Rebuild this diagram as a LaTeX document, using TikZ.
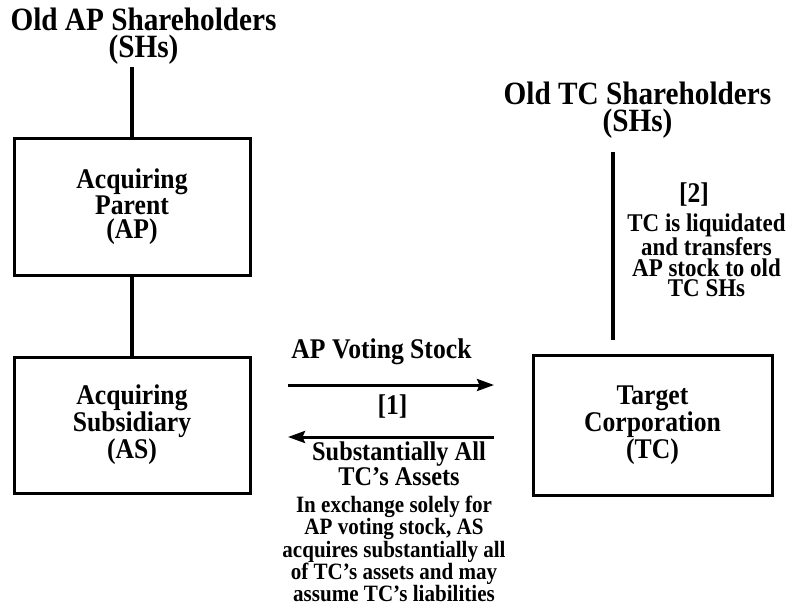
\documentclass[tikz,border=0pt]{standalone}
\usepackage{fontspec}
\setmainfont{Liberation Serif}[FakeStretch=0.9]
\usetikzlibrary{arrows.meta}

\newcommand{\fsz}[2]{\fontsize{#1}{#2}\selectfont\bfseries}

\tikzset{
  title/.style={align=center, inner sep=0pt, font=\fsz{32.5}{27}},
  boxtext/.style={draw, line width=3pt, align=center, inner sep=0pt, font=\fsz{28.5}{24}},
  label/.style={align=center, inner sep=0pt, font=\fsz{28.5}{24}},
  note/.style={align=center, inner sep=0pt, font=\fsz{25.5}{20.5}},
  subnote/.style={align=center, inner sep=0pt, font=\fsz{27}{20.5}},
  para/.style={align=center, inner sep=0pt, font=\fsz{23.4}{18.8}},
  link/.style={line width=3.5pt},
  flow/.style={line width=3pt, -{Stealth[length=17pt,width=12pt,inset=2.5pt]}},
}

\begin{document}
\begin{tikzpicture}[x=1pt, y=-1pt]
  \useasboundingbox (0,0) rectangle (793,605);

  % shareholders
  \node[title] (apsh) at (143.5,36.5) {Old AP Shareholders\\(SHs)};
  \node[title] (tcsh) at (637.5,110.5) {Old TC Shareholders\\(SHs)};

  % corporations
  \node[boxtext, minimum width=236pt, minimum height=137pt] (ap) at (132,206.5) {Acquiring\\Parent\\(AP)};
  \node[boxtext, minimum width=236pt, minimum height=136pt] (as) at (132,425) {Acquiring\\Subsidiary\\(AS)};
  \node[boxtext, minimum width=239pt, minimum height=140pt] (tc) at (652.5,425) {Target\\Corporation\\(TC)};

  % ownership links
  \draw[link] (ap.north) -- (ap.north |- 0,67);
  \draw[link] (ap.south) -- (as.north);
  \coordinate (tctop) at (613,152);
  \coordinate (tcbot) at (613,340);
  \draw[link] (tctop) -- (tcbot);

  % step 2
  \node[label] (two) at (694,195) {[2]};
  \node[note] (liq) at (706.5,255.5) {TC is liquidated\\and transfers\\AP stock to old\\TC SHs};

  % step 1 exchange
  \coordinate (rstart) at (288,385);
  \coordinate (rend) at (494,385);
  \coordinate (lstart) at (494,437);
  \coordinate (lend) at (288,437);
  \draw[flow] (rstart) -- (rend);
  \draw[flow] (lstart) -- (lend);
  \node[label] (vs) at (381.5,351.5) {AP Voting Stock};
  \node[label] (one) at (392.5,407) {[1]};
  \node[subnote] (assets) at (399,464) {Substantially All\\TC’s Assets};

  \node[para] (desc) at (394,549) {In exchange solely for\\AP voting stock, AS\\acquires substantially all\\of TC’s assets and may\\assume TC’s liabilities};
\end{tikzpicture}
\end{document}
